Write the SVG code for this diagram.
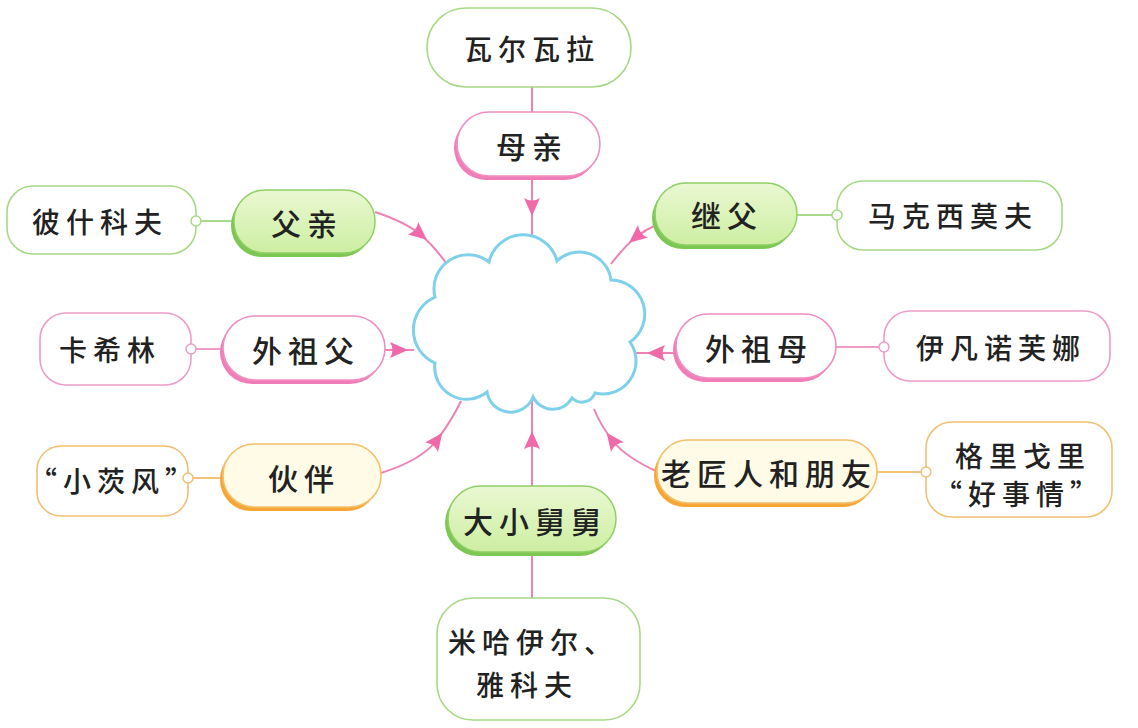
<svg xmlns="http://www.w3.org/2000/svg" width="1138" height="728" viewBox="0 0 1138 728">
<defs>
<style>
text{font-family:"Noto Sans CJK SC","Noto Sans CJK TC",sans-serif;fill:#222;text-anchor:middle;dominant-baseline:central;font-weight:500;}
.big{font-size:30px;letter-spacing:6px;}
.kid{font-size:28px;letter-spacing:6px;}
.conn{fill:none;stroke:#ee82b6;stroke-width:2;}
.arr{marker-mid:url(#ah);}
.lg{stroke:#a9d98a;stroke-width:2;}
.lp{stroke:#ef9cc6;stroke-width:2;}
.lo{stroke:#f2c27a;stroke-width:2;}
.dot{fill:#fff;stroke-width:1.5;}
.cg{fill:#fff;stroke:#a6d985;stroke-width:1.6;}
.cp{fill:#fff;stroke:#ee9cc8;stroke-width:1.6;}
.co{fill:#fff;stroke:#f2bf74;stroke-width:1.6;}
.sg{fill:#7cc653;}
.sp{fill:#f07db7;}
.so{fill:#f5a636;}
.mg{fill:url(#gg);stroke:#8fd064;stroke-width:1.5;}
.mp{fill:#fff;stroke:#ef8fc2;stroke-width:1.6;}
.mo{fill:#fffbe6;stroke:#f3c06a;stroke-width:1.6;}
</style>
<linearGradient id="gg" x1="0" y1="0" x2="0" y2="1">
<stop offset="0" stop-color="#eaf8d2"/>
<stop offset="1" stop-color="#cdeea2"/>
</linearGradient>
<marker id="ah" markerUnits="userSpaceOnUse" markerWidth="24" markerHeight="24" viewBox="-12 -12 24 24" refX="0" refY="0" orient="auto">
<path d="M-9,-8 Q-4,0 -9,8 L9,0 Z" fill="#f06aaa"/>
</marker>
</defs>
<rect width="1138" height="728" fill="#fff"/>

<g id="connectors">
<line class="conn" x1="532" y1="87" x2="532" y2="112"/>
<path class="conn arr" d="M532,178 L532,207 L532,236"/>
<path class="conn arr" d="M375,212 Q405,222 420,234 Q434,246 446,263"/>
<path class="conn arr" d="M385,350 L399,350 L414,350"/>
<path class="conn arr" d="M381,473 Q422,460 437,440 Q452,420 461,401"/>
<path class="conn arr" d="M532,486 L532,440 L532,398"/>
<line class="conn" x1="532" y1="552" x2="532" y2="598"/>
<path class="conn arr" d="M656,225 Q645,230 636,237 Q624,247 611,264"/>
<path class="conn arr" d="M676,353 L656,353 L633,353"/>
<path class="conn arr" d="M658,472 Q625,457 612,440 Q600,424 594,409"/>
<line class="lg" x1="200" y1="221" x2="234" y2="221"/>
<line class="lp" x1="195" y1="349" x2="224" y2="349"/>
<line class="lo" x1="192" y1="478" x2="224" y2="478"/>
<line class="lg" x1="797" y1="215" x2="833" y2="215"/>
<line class="lp" x1="836" y1="347" x2="880" y2="347"/>
<line class="lo" x1="877" y1="472" x2="922" y2="472"/>
</g>

<g id="center">
<path d="M435,297 A34,34 0 0 1 489,262 A35,35 0 0 1 557,261 A32,32 0 0 1 611,280 A34,34 0 0 1 630,342 A33,33 0 0 1 595,393 A14,14 0 0 1 572,398 A22,22 0 0 1 533,397 A24,24 0 0 1 487,392 A32,32 0 0 1 435,363 A36,36 0 0 1 435,297 Z" fill="#fff" stroke="#7fd0ea" stroke-width="3"/>
</g>

<g id="n-walwala">
<rect class="cg" x="427" y="8" width="204" height="79" rx="39"/>
<text class="kid" x="532" y="48">瓦尔瓦拉</text>
</g>
<g id="n-mother">
<rect class="sp" x="454" y="116" width="143" height="64" rx="32"/>
<rect class="mp" x="457" y="112" width="143" height="64" rx="32"/>
<text class="big" x="532" y="145">母亲</text>
</g>

<g id="n-father">
<rect class="sg" x="231" y="194" width="141" height="63" rx="31"/>
<rect class="mg" x="234" y="190" width="141" height="63" rx="31"/>
<text class="big" x="307" y="222">父亲</text>
</g>
<g id="n-peshkov">
<rect class="cg" x="7" y="186" width="189" height="68" rx="26"/>
<circle class="dot" cx="196" cy="221" r="5" stroke="#a6d985"/>
<text class="kid" x="100" y="221">彼什科夫</text>
</g>

<g id="n-grandpa">
<rect class="sp" x="220" y="320" width="162" height="64" rx="32"/>
<rect class="mp" x="223" y="316" width="162" height="64" rx="32"/>
<text class="big" x="306" y="349">外祖父</text>
</g>
<g id="n-kashirin">
<rect class="cp" x="40" y="313" width="151" height="72" rx="26"/>
<circle class="dot" cx="191" cy="349" r="5" stroke="#ee9cc8"/>
<text class="kid" x="110" y="349">卡希林</text>
</g>

<g id="n-partner">
<rect class="so" x="220" y="448" width="158" height="63" rx="31"/>
<rect class="mo" x="223" y="444" width="158" height="63" rx="31"/>
<text class="big" x="304" y="477">伙伴</text>
</g>
<g id="n-xiaochong">
<rect class="co" x="37" y="446" width="151" height="70" rx="24"/>
<circle class="dot" cx="188" cy="478" r="5" stroke="#f2bf74"/>
<text class="kid" x="114" y="480" letter-spacing="2">“小茨风”</text>
</g>

<g id="n-uncles">
<rect class="sg" x="445" y="490" width="168" height="66" rx="33"/>
<rect class="mg" x="448" y="486" width="168" height="66" rx="33"/>
<text class="big" x="535" y="520">大小舅舅</text>
</g>
<g id="n-mikhail">
<rect class="cg" x="437" y="598" width="203" height="122" rx="36"/>
<text class="kid" x="533" y="641">米哈伊尔、</text>
<text class="kid" x="527" y="684">雅科夫</text>
</g>

<g id="n-stepfather">
<rect class="sg" x="652" y="187" width="142" height="62" rx="31"/>
<rect class="mg" x="655" y="183" width="142" height="62" rx="31"/>
<text class="big" x="727" y="214">继父</text>
</g>
<g id="n-maksimov">
<rect class="cg" x="837" y="181" width="225" height="69" rx="26"/>
<circle class="dot" cx="837" cy="215" r="5" stroke="#a6d985"/>
<text class="kid" x="953" y="215">马克西莫夫</text>
</g>

<g id="n-grandma">
<rect class="sp" x="673" y="318" width="160" height="64" rx="32"/>
<rect class="mp" x="676" y="314" width="160" height="64" rx="32"/>
<text class="big" x="759" y="347">外祖母</text>
</g>
<g id="n-ivanovna">
<rect class="cp" x="884" y="311" width="226" height="70" rx="26"/>
<circle class="dot" cx="884" cy="347" r="5" stroke="#ee9cc8"/>
<text class="kid" x="1001" y="347">伊凡诺芙娜</text>
</g>

<g id="n-craftsman">
<rect class="so" x="654" y="444" width="220" height="63" rx="31"/>
<rect class="mo" x="657" y="440" width="220" height="63" rx="31"/>
<text class="big" x="769" y="472" letter-spacing="3">老匠人和朋友</text>
</g>
<g id="n-grigory">
<rect class="co" x="926" y="422" width="186" height="95" rx="26"/>
<circle class="dot" cx="926" cy="472" r="5" stroke="#f2bf74"/>
<text class="kid" x="1023" y="455">格里戈里</text>
<text class="kid" x="1019" y="493" letter-spacing="2">“好事情”</text>
</g>
</svg>
